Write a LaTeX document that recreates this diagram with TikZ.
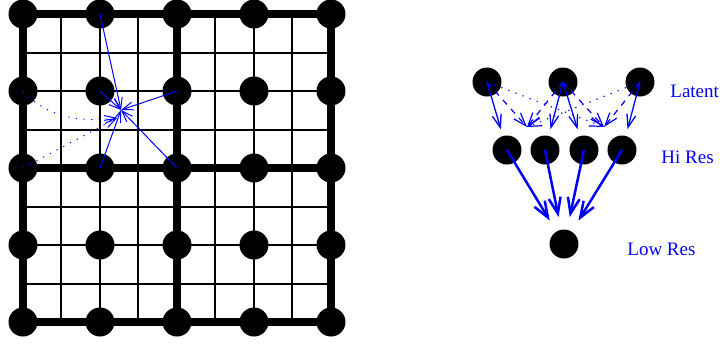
\documentclass[tikz,border=0pt]{standalone}
\usepackage{fontspec}
\setmainfont{Liberation Serif}
\usetikzlibrary{arrows.meta}

\begin{document}
\begin{tikzpicture}[x=0.5pt, y=-0.5pt,
  dot/.style={circle, fill=black, inner sep=0pt, outer sep=0pt, minimum size=14.5pt},
  fine/.style={line width=1pt},
  coarse/.style={line width=3.8pt},
  feed/.style={blue, line width=0.5pt, -{Straight Barb[length=5.5pt,width=4pt]}},
  side/.style={blue, line width=0.6pt, -{Straight Barb[length=6.5pt,width=4.5pt]}},
  up/.style={blue, line width=0.65pt, -{Straight Barb[length=6.5pt,width=4.5pt]}, shorten >=3.5pt},
  down/.style={blue, line width=1.25pt, -{Straight Barb[length=8pt,width=6pt]}, shorten >=6.5pt},
  sparse/.style={dash pattern=on 0.6pt off 3.2pt},
  gap/.style={dash pattern=on 3pt off 3pt},
  lbl/.style={text=blue, inner sep=0pt, anchor=base west, font=\fontsize{9.5}{11}\selectfont}]

  \useasboundingbox (0,0) rectangle (720,345);

  % fine grid, then the coarse one on top
  \foreach \i in {0,...,8} {
    \draw[fine] ({23+38.5*\i},14) -- ({23+38.5*\i},322);
    \draw[fine] (23,{14+38.5*\i}) -- (331,{14+38.5*\i});
  }
  \foreach \i in {0,2,4} {
    \draw[coarse] ({23+77*\i},14) -- ({23+77*\i},322);
    \draw[coarse] (23,{14+77*\i}) -- (331,{14+77*\i});
  }
  \foreach \i in {0,...,4}
    \foreach \j in {0,...,4}
      \node[dot] (g\i\j) at ({23+77*\i},{14+77*\j}) {};

  % one fine point fed by its coarse neighbours
  \coordinate (tgt) at (121,110);
  \coordinate (tgtb) at (117,118);
  \draw[feed] (g10.center) -- (tgt);
  \draw[feed] (g11.center) -- (tgt);
  \draw[feed] (g21.center) -- (tgt);
  \draw[feed] (g12.center) -- (tgt);
  \draw[feed] (g22.center) -- (tgt);
  \draw[feed, sparse] (g01.center) .. controls (45,115) and (75,123) .. (tgtb);
  \draw[feed, sparse] (g02.center) -- (tgtb);

  % three levels
  \node[dot] (l1) at (487,82) {};
  \node[dot] (l2) at (563,82) {};
  \node[dot] (l3) at (640,82) {};
  \node[dot] (h1) at (507,150) {};
  \node[dot] (h2) at (545,150) {};
  \node[dot] (h3) at (584,150) {};
  \node[dot] (h4) at (622,150) {};
  \node[dot] (low) at (564,244) {};
  \coordinate (m1) at (527,127);
  \coordinate (m2) at (604,127);

  \draw[up] (l1.center) -- (h1);
  \draw[up] (l2.center) -- (h2);
  \draw[up] (l2.center) -- (h3);
  \draw[up] (l3.center) -- (h4);
  \draw[side, gap] (l1.center) -- (m1);
  \draw[side, gap] (l2.center) -- (m1);
  \draw[side, sparse] (l3.center) -- (m1);
  \draw[side, sparse] (l1.center) -- (m2);
  \draw[side, gap] (l2.center) -- (m2);
  \draw[side, gap] (l3.center) -- (m2);

  \draw[down] (h1.center) -- (low);
  \draw[down] (h2.center) -- (low);
  \draw[down] (h3.center) -- (low);
  \draw[down] (h4.center) -- (low);

  \node[lbl] (latent) at (670,97) {Latent};
  \node[lbl] (hires) at (661,163) {Hi Res};
  \node[lbl] (lowres) at (627,255) {Low Res};
\end{tikzpicture}
\end{document}
